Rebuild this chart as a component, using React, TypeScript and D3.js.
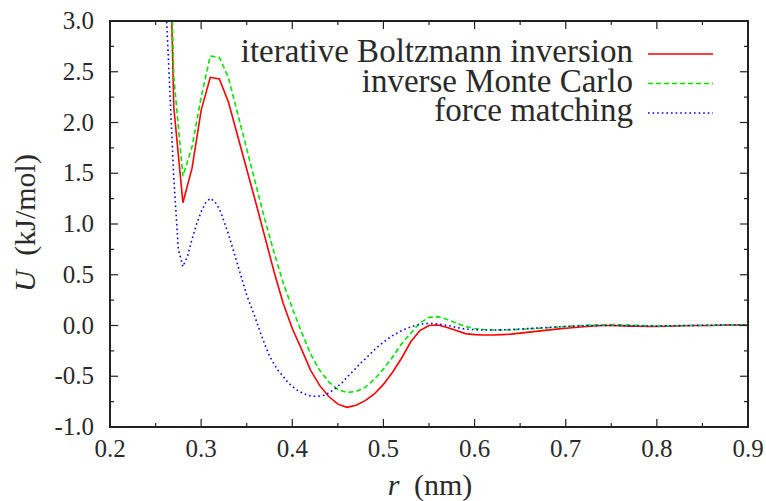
import React from "react";
import * as d3 from "d3";

// r grid (nm) for the IBI and IMC potentials
const rGrid = [
  0.26, 0.27, 0.28, 0.29, 0.30, 0.31, 0.32, 0.33, 0.34, 0.35, 0.36, 0.37, 0.38,
  0.39, 0.40, 0.41, 0.42, 0.43, 0.44, 0.45, 0.46, 0.47, 0.48, 0.49, 0.50, 0.51,
  0.52, 0.53, 0.54, 0.55, 0.56, 0.57, 0.58, 0.59, 0.60, 0.61, 0.62, 0.63, 0.64,
  0.65, 0.66, 0.67, 0.68, 0.69, 0.70, 0.71, 0.72, 0.73, 0.74, 0.75, 0.76, 0.77,
  0.78, 0.79, 0.80, 0.81, 0.82, 0.83, 0.84, 0.85, 0.86, 0.87, 0.88, 0.89, 0.90,
];

// iterative Boltzmann inversion, kJ/mol
const ibi = [
  6, 2.15, 1.21, 1.55, 2.12, 2.445, 2.43, 2.2, 1.87, 1.54, 1.21, 0.87, 0.53,
  0.22, -0.03, -0.23, -0.44, -0.59, -0.7, -0.775, -0.806, -0.785, -0.74, -0.675, -0.58, -0.46,
  -0.32, -0.16, -0.05, 0.0, 0.005, -0.02, -0.05, -0.08, -0.09, -0.093, -0.094, -0.09, -0.085,
  -0.075, -0.065, -0.055, -0.046, -0.036, -0.027, -0.02, -0.012, -0.005, 0, 0, -0.003, -0.006,
  -0.008, -0.01, -0.01, -0.008, -0.005, -0.003, 0, 0, 0, 0.003, 0.005, 0.005, 0.005,
];

// inverse Monte Carlo
const imc = [
  6, 2.45, 1.47, 1.76, 2.25, 2.655, 2.64, 2.44, 2.09, 1.74, 1.39, 1.04, 0.72,
  0.42, 0.17, -0.06, -0.28, -0.44, -0.555, -0.63, -0.66, -0.65, -0.61, -0.53, -0.43, -0.31,
  -0.18, -0.075, 0.025, 0.08, 0.087, 0.06, 0.025, -0.01, -0.03, -0.04, -0.045, -0.045, -0.042,
  -0.038, -0.033, -0.028, -0.022, -0.017, -0.01, -0.004, 0, 0.005, 0.008, 0.01, 0.008, 0.005,
  0.002, -0.002, -0.005, -0.005, -0.003, 0, 0, 0, 0.002, 0.003, 0.005, 0.005, 0.005,
];

// force matching has a finer grid
const fmR = [
  0.26, 0.265, 0.27, 0.275, 0.28, 0.285, 0.29, 0.295, 0.30, 0.305, 0.31, 0.315, 0.32,
  0.325, 0.33, 0.335, 0.34, 0.345, 0.35, 0.355, 0.36, 0.365, 0.37, 0.375, 0.38, 0.385,
  0.39, 0.395, 0.40, 0.405, 0.41, 0.415, 0.42, 0.425, 0.43, 0.435, 0.44, 0.445, 0.45,
  0.455, 0.46, 0.465, 0.47, 0.475, 0.48, 0.485, 0.49, 0.495, 0.50, 0.505, 0.51, 0.515,
  0.52, 0.525, 0.53, 0.535, 0.54, 0.545, 0.55, 0.555, 0.56, 0.565, 0.57, 0.575, 0.58,
  0.59, 0.60, 0.61, 0.62, 0.63, 0.64, 0.65, 0.66, 0.67, 0.68, 0.69, 0.70, 0.71, 0.72,
  0.73, 0.74, 0.75, 0.76, 0.77, 0.78, 0.79, 0.80, 0.81, 0.82, 0.83, 0.84, 0.85, 0.86,
  0.87, 0.88, 0.89, 0.90,
];
const fm = [
  3.4, 2.45, 1.45, 0.75, 0.58, 0.68, 0.85, 1.0, 1.12, 1.21, 1.253, 1.22, 1.15,
  1.03, 0.9, 0.75, 0.6, 0.45, 0.3, 0.18, 0.06, -0.07, -0.19, -0.3, -0.38, -0.45,
  -0.5, -0.56, -0.6, -0.635, -0.66, -0.68, -0.693, -0.698, -0.695, -0.687, -0.665, -0.635, -0.6,
  -0.56, -0.51, -0.465, -0.42, -0.37, -0.33, -0.285, -0.24, -0.2, -0.165, -0.13, -0.1, -0.075,
  -0.05, -0.032, -0.015, 0.0, 0.012, 0.018, 0.02, 0.02, 0.015, 0.008, 0.0, -0.007, -0.02,
  -0.035, -0.042, -0.045, -0.045, -0.043, -0.04, -0.035, -0.03, -0.025, -0.02, -0.014, -0.009, -0.005, -0.002,
  0, 0, 0, 0, -0.002, -0.004, -0.005, -0.005, -0.004, -0.002, 0, 0, 0.002, 0.003,
  0.004, 0.005, 0.005, 0.005,
];

const xTicks = [0.2, 0.3, 0.4, 0.5, 0.6, 0.7, 0.8, 0.9];
const xMinor = [0.25, 0.35, 0.45, 0.55, 0.65, 0.75, 0.85];
const yTicks = [3.0, 2.5, 2.0, 1.5, 1.0, 0.5, 0.0, -0.5, -1.0];
const yMinor = [2.75, 2.25, 1.75, 1.25, 0.75, 0.25, -0.25, -0.75];
const labels = ["iterative Boltzmann inversion", "inverse Monte Carlo", "force matching"];

const W = 766, H = 501;
const margin = { top: 21, right: 18, bottom: 74, left: 110 };
const ink = "#2a2a2a";
const serif = { fontFamily: '"Liberation Serif"' };

export default function App() {
  const x = d3.scaleLinear().domain([0.2, 0.9]).range([margin.left, W - margin.right]);
  const y = d3.scaleLinear().domain([-1, 3]).range([H - margin.bottom, margin.top]);
  const [x0, x1] = x.range();
  const [y0, y1] = y.range(); // y0 bottom, y1 top

  const line = d3.line<[number, number]>().x(d => x(d[0])).y(d => y(d[1]));

  const series = [
    { pts: rGrid.map((r, i) => [r, ibi[i]] as [number, number]), color: "#ff0000", dash: undefined },
    { pts: rGrid.map((r, i) => [r, imc[i]] as [number, number]), color: "#00e600", dash: "5,3" },
    { pts: fmR.map((r, i) => [r, fm[i]] as [number, number]), color: "#0000ff", dash: "1.6,3" },
  ];

  const ticks: JSX.Element[] = [];
  xTicks.concat(xMinor).forEach((v, i) => {
    const len = xTicks.includes(v) ? 8 : 4;
    ticks.push(<line key={"xb" + i} x1={x(v)} x2={x(v)} y1={y0} y2={y0 - len} />);
    ticks.push(<line key={"xt" + i} x1={x(v)} x2={x(v)} y1={y1} y2={y1 + len} />);
  });
  yTicks.concat(yMinor).forEach((v, i) => {
    const len = yTicks.includes(v) ? 8 : 4;
    ticks.push(<line key={"yl" + i} y1={y(v)} y2={y(v)} x1={x0} x2={x0 + len} />);
    ticks.push(<line key={"yr" + i} y1={y(v)} y2={y(v)} x1={x1} x2={x1 - len} />);
  });

  return (
    <svg width={W} height={H} style={{ position: "absolute", left: 0, top: 0, background: "#fff" }}>
      <defs>
        <clipPath id="plot">
          <rect x={x0} y={y1} width={x1 - x0} height={y0 - y1} />
        </clipPath>
      </defs>

      <g clipPath="url(#plot)">
        {series.map((s, i) => (
          <path key={i} d={line(s.pts) || ""} fill="none" stroke={s.color}
            strokeWidth={1.6} strokeDasharray={s.dash} />
        ))}
      </g>

      <g stroke="#222" strokeWidth={1.2}>{ticks}</g>
      <rect x={x0} y={y1} width={x1 - x0} height={y0 - y1} fill="none" stroke="#222" strokeWidth={2} />

      {xTicks.map(v => (
        <text key={"xl" + v} x={x(v)} y={y0 + 30} textAnchor="middle" fontSize={25} fill={ink} style={serif}>
          {v.toFixed(1)}
        </text>
      ))}
      {yTicks.map(v => (
        <text key={"yl" + v} x={x0 - 16} y={y(v) + 8} textAnchor="end" fontSize={25} fill={ink} style={serif}>
          {v.toFixed(1)}
        </text>
      ))}

      <text x={430} y={495} textAnchor="middle" fontSize={30} fill={ink} style={serif}>
        <tspan fontStyle="italic">r</tspan>
        <tspan dx={7}> (nm)</tspan>
      </text>
      <text transform="translate(35,223) rotate(-90)" textAnchor="middle" fontSize={30} fill={ink} style={serif}>
        <tspan fontStyle="italic">U</tspan>
        <tspan dx={7}> (kJ/mol)</tspan>
      </text>

      {series.map((s, i) => {
        const ly = 54 + i * 29.5;
        return (
          <g key={"leg" + i}>
            <text x={633} y={ly + 8} textAnchor="end" fontSize={33} fill={ink} style={serif}>
              {labels[i]}
            </text>
            <line x1={648} x2={713} y1={ly} y2={ly} stroke={s.color} strokeWidth={1.6} strokeDasharray={s.dash} />
          </g>
        );
      })}
    </svg>
  );
}
